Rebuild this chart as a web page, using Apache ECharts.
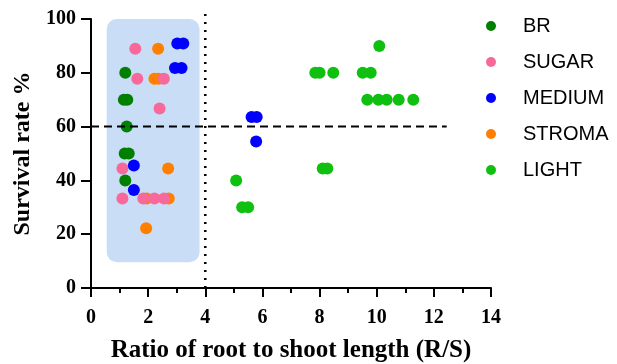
<!DOCTYPE html>
<html>
<head>
<meta charset="utf-8">
<script src="https://cdn.jsdelivr.net/npm/echarts@6/dist/echarts.min.js"></script>
<style>html,body{margin:0;padding:0;background:#fff;}#c{width:617px;height:364px;}</style>
</head>
<body>
<div id="c"></div>
<script>
// Series data: [ratio R/S, survival %]
const BR = [[1.2,80],[1.15,70],[1.27,70],[1.25,60],[1.18,50],[1.32,50],[1.2,40]];
const SUGAR = [[1.55,88.9],[1.62,77.8],[2.55,77.8],[2.4,66.7],[1.1,44.4],[1.1,33.3],[1.83,33.3],[2.22,33.3],[2.56,33.3]];
const MEDIUM = [[3.02,90.9],[3.23,90.9],[2.94,81.8],[3.17,81.8],[1.5,45.5],[1.5,36.4],[5.62,63.6],[5.8,63.6],[5.78,54.5]];
const STROMA = [[2.35,88.9],[2.22,77.8],[2.36,77.8],[2.7,44.4],[1.95,33.3],[2.72,33.3],[1.93,22.2]];
const LIGHT = [[10.09,90],[7.85,80],[8.0,80],[8.48,80],[9.51,80],[9.79,80],[9.67,70],[10.06,70],[10.35,70],[10.77,70],[11.28,70],[8.11,44.4],[8.27,44.4],[5.08,40],[5.29,30],[5.5,30]];
// Reference lines and highlighted region
const thresholdLine = [[0,60],[12.45,60]];
const cutoffLine = [[4,0],[4,102]];
const highlightBox = [[0.55, 9.6, 3.8, 100]]; // xMin, yMin, xMax, yMax
const names = ['BR','SUGAR','MEDIUM','STROMA','LIGHT'];
const colors = {BR:'#007f00', SUGAR:'#f7699a', MEDIUM:'#0000ff', STROMA:'#ff7f00', LIGHT:'#10c010'};
const zOrder = {BR:5, SUGAR:4, MEDIUM:6, STROMA:3, LIGHT:3};
const dataMap = {BR, SUGAR, MEDIUM, STROMA, LIGHT};

const chart = echarts.init(document.getElementById('c'), null, {renderer:'canvas'});
const serif = 'Liberation Serif';
const series = [
  {
    type:'custom', name:'box', data: highlightBox, z:1, silent:true,
    renderItem: (params, api) => {
      const p0 = api.coord([api.value(0), api.value(3)]);
      const p1 = api.coord([api.value(2), api.value(1)]);
      return {type:'rect', shape:{x:p0[0], y:p0[1], width:p1[0]-p0[0], height:p1[1]-p0[1], r:10},
              style:{fill:'#c9ddf6'}};
    }
  }
];
names.forEach(n => series.push({
  type:'scatter', name:n, data:dataMap[n], symbol:'circle', symbolSize:12,
  itemStyle:{color:colors[n], opacity:1}, z:zOrder[n]
}));
series.push({type:'line', name:'th', data:thresholdLine, symbol:'none', z:10, clip:false, silent:true,
  lineStyle:{color:'#000', width:2, type:[8,5]}});
series.push({type:'line', name:'cut', data:cutoffLine, symbol:'none', z:10, clip:false, silent:true,
  lineStyle:{color:'#000', width:2.5, type:[2,6]}});

chart.setOption({
  animation:false,
  grid:{left:91, right:126, top:19, bottom:76, containLabel:false, outerBoundsMode:'none'},
  legend:{
    data: names, orient:'vertical', left:481, top:11, icon:'circle',
    itemWidth:10, itemHeight:10, itemGap:16,
    itemStyle:{opacity:1},
    textStyle:{fontFamily:'Liberation Sans', fontSize:20, color:'#000', padding:[0,0,0,22], lineHeight:20}
  },
  xAxis:{
    type:'value', min:0, max:14, interval:2,
    name:'Ratio of root to shoot length (R/S)', nameLocation:'middle', nameGap:50,
    nameTextStyle:{fontFamily:serif, fontWeight:'bold', fontSize:25, color:'#000'},
    axisLine:{show:true, lineStyle:{color:'#000', width:2}},
    axisTick:{show:true, length:9, lineStyle:{color:'#000', width:2}},
    minorTick:{show:true, splitNumber:2, length:5, lineStyle:{color:'#000', width:2}},
    splitLine:{show:false},
    axisLabel:{fontFamily:serif, fontWeight:'bold', fontSize:20, color:'#000', margin:20}
  },
  yAxis:{
    type:'value', min:0, max:100, interval:20,
    name:'Survival rate %', nameLocation:'middle', nameGap:56,
    nameTextStyle:{fontFamily:serif, fontWeight:'bold', fontSize:24, color:'#000'},
    axisLine:{show:true, lineStyle:{color:'#000', width:2}},
    axisTick:{show:true, length:10, lineStyle:{color:'#000', width:2}},
    splitLine:{show:false},
    axisLabel:{fontFamily:serif, fontWeight:'bold', fontSize:20, color:'#000', margin:15}
  },
  series
});
</script>
</body>
</html>
